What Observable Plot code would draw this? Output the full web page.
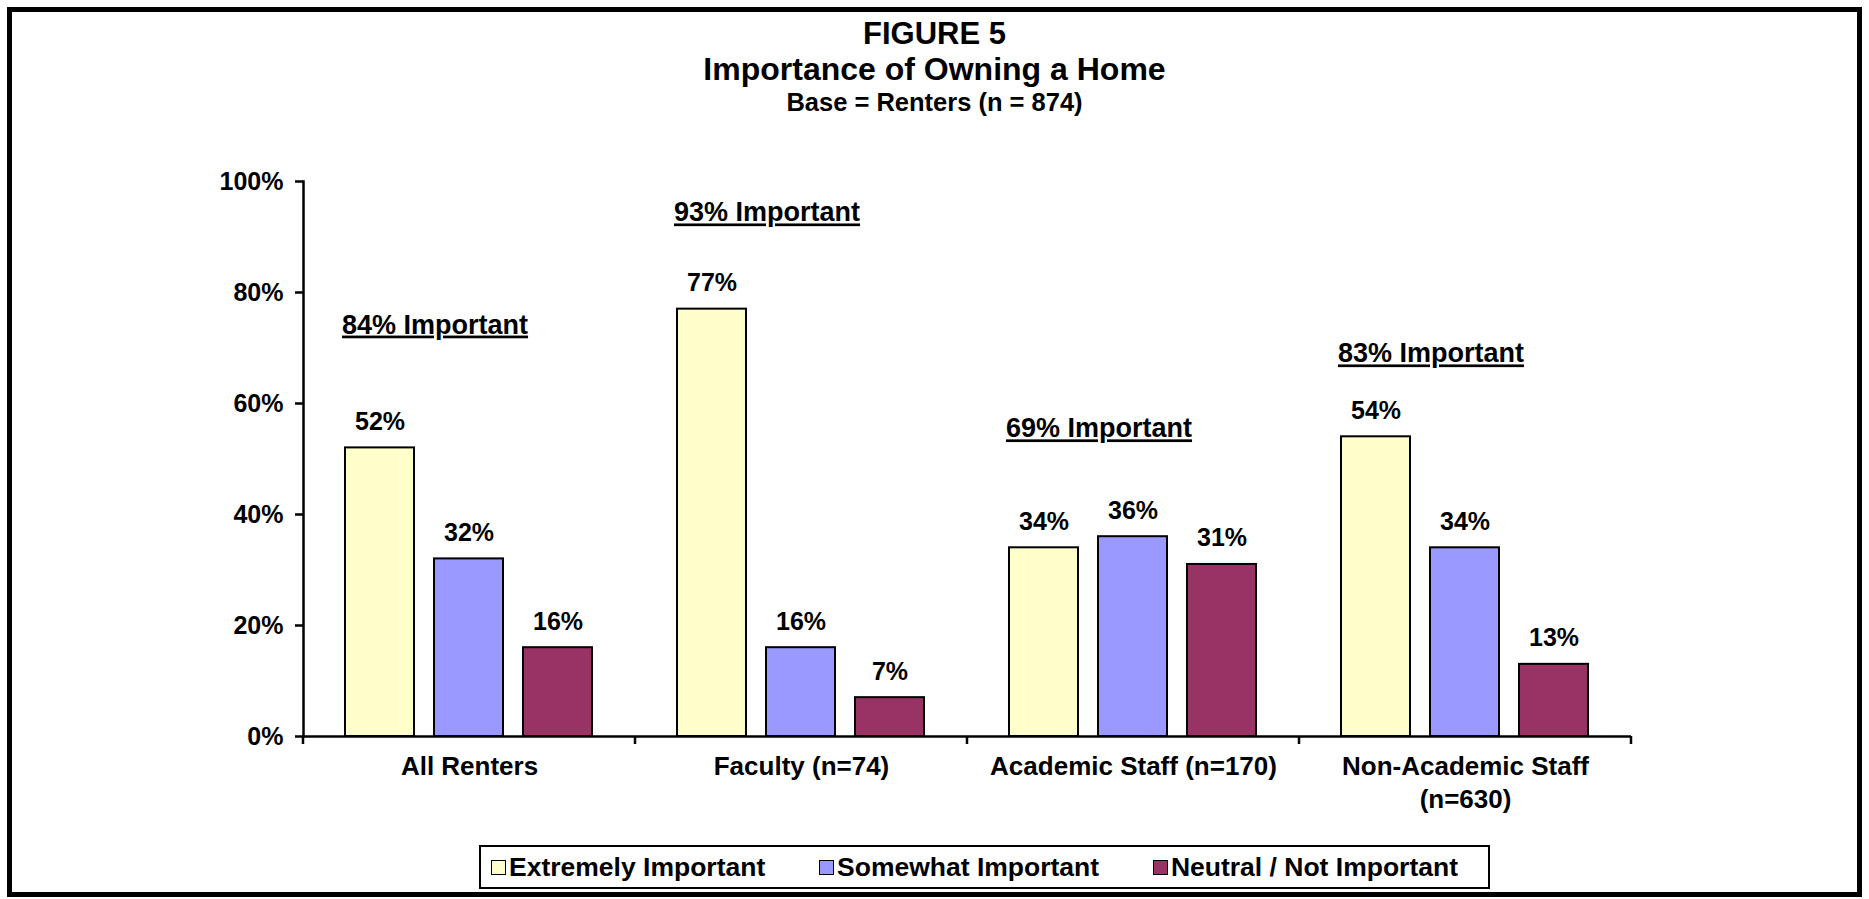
<!DOCTYPE html>
<html>
<head>
<meta charset="utf-8">
<script src="https://cdn.jsdelivr.net/npm/d3@7"></script>
<script src="https://cdn.jsdelivr.net/npm/@observablehq/plot@0.6"></script>
<style>
  html, body { margin: 0; padding: 0; background: #ffffff; }
  body { width: 1869px; height: 899px; position: relative; overflow: hidden;
         font-family: "Liberation Sans", Arial, sans-serif; font-weight: bold; color: #000; }
  #frame { position: absolute; left: 7px; top: 7px; width: 1855px; height: 890px;
           border: 5px solid #000; box-sizing: border-box; }
  .t { position: absolute; left: 0; width: 1869px; text-align: center; white-space: nowrap; }
  #t1 { top: 18px; font-size: 31px; line-height: 31px; }
  #t2 { top: 53px; font-size: 32px; line-height: 32px; }
  #t3 { top: 90px; font-size: 25.5px; line-height: 24px; }
  #chart { position: absolute; left: 0; top: 130px; }
  #legend { position: absolute; left: 479px; top: 845px; width: 1011px; height: 44px;
            border: 2px solid #000; box-sizing: border-box; display: flex; align-items: center;
            justify-content: space-between; padding: 0 30px 0 10px; font-size: 26.5px; }
  .item { display: flex; align-items: center; white-space: nowrap; }
  .sw { width: 13px; height: 13px; border: 1.5px solid #000; margin-right: 3px; box-sizing: content-box; }
  .note text { text-decoration: underline; text-decoration-thickness: 2.5px; text-underline-offset: 3px; }
</style>
</head>
<body>
<div id="frame"></div>
<div class="t" id="t1">FIGURE 5</div>
<div class="t" id="t2">Importance of Owning a Home</div>
<div class="t" id="t3">Base = Renters (n = 874)</div>
<div id="chart"></div>
<div id="legend"></div>
<script>
// ---- data ----
const categories = ["All Renters", "Faculty (n=74)", "Academic Staff (n=170)", "Non-Academic Staff\n(n=630)"];
const series = ["Extremely Important", "Somewhat Important", "Neutral / Not Important"];
const extremely = [52, 77, 34, 54];
const somewhat = [32, 16, 36, 34];
const neutral = [16, 7, 31, 13];
const importantTotals = [84, 93, 69, 83];
const yTicks = [0, 20, 40, 60, 80, 100];
const colors = ["#FFFFCC", "#9999FF", "#993366"];
// where the "xx% Important" annotation boxes sit (in y-axis units)
const noteAt = [72.6, 92.8, 53.9, 67.4];

const seriesValues = [extremely, somewhat, neutral];
const rows = categories.flatMap((c, i) => seriesValues.map((arr, j) => ({category: c, series: series[j], value: arr[i]})));
const notes = categories.map((c, i) => ({category: c, text: `${importantTotals[i]}% Important`, at: noteAt[i]}));

const boundaryTick = (side) => Plot.ruleY([0], {
  facetAnchor: side === "right" ? "right" : undefined,
  render(index, scales, values, dimensions) {
    const {width, marginLeft, marginRight} = dimensions;
    const x = side === "right" ? width - marginRight : marginLeft;
    const y0 = scales.y(0);
    const g = d3.create("svg:g");
    g.append("line").attr("x1", x).attr("x2", x).attr("y1", y0).attr("y2", y0 + 8)
      .attr("stroke", "black").attr("stroke-width", 2.5);
    return g.node();
  }
});

const chart = Plot.plot({
  width: 1869,
  height: 710,
  marginTop: 51,
  marginBottom: 104,
  marginLeft: 302,
  marginRight: 237,
  style: {fontFamily: "'Liberation Sans', Arial, sans-serif", fontWeight: "bold", color: "black", background: "transparent", overflow: "visible"},
  fx: {domain: categories, padding: 0, label: null},
  x: {domain: series, paddingInner: 0.222, paddingOuter: 0.458, axis: null},
  y: {domain: [0, 100], axis: null},
  color: {domain: series, range: colors},
  marks: [
    Plot.barY(rows, {fx: "category", x: "series", y: "value", fill: "series", stroke: "black", strokeWidth: 2}),
    Plot.text(rows, {fx: "category", x: "series", y: "value", text: d => d.value + "%", lineAnchor: "bottom", dy: -18, fontSize: 25, fill: "black"}),
    Plot.text(notes, {fx: "category", x: () => series[0], y: "at", text: "text", textAnchor: "start", lineAnchor: "bottom", dx: -38, fontSize: 27, fill: "black", className: "note"}),
    Plot.ruleY([0], {stroke: "black", strokeWidth: 2.5}),
    Plot.frame({anchor: "left", facetAnchor: "left", stroke: "black", strokeWidth: 2.5}),
    boundaryTick("left"),
    boundaryTick("right"),
    Plot.axisY({ticks: yTicks, tickFormat: d => d + "%", tickSize: 8, tickPadding: 12, fontSize: 25, strokeWidth: 2.5, label: null}),
    Plot.axisFx({anchor: "bottom", tickSize: 0, tickPadding: 14, fontSize: 26, lineHeight: 1.3, label: null})
  ]
});
document.getElementById("chart").appendChild(chart);

// legend
const legend = d3.select("#legend");
series.forEach((s, i) => {
  const it = legend.append("div").attr("class", "item");
  it.append("span").attr("class", "sw").style("background", colors[i]);
  it.append("span").text(s);
});
</script>
</body>
</html>
